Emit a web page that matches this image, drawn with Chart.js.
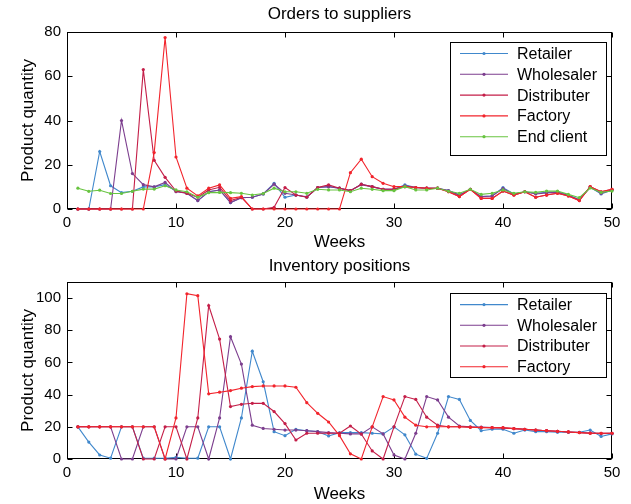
<!DOCTYPE html>
<html>
<head>
<meta charset="utf-8">
<script src="https://cdn.jsdelivr.net/npm/chart.js@4.4.1/dist/chart.umd.min.js"></script>
<style>
  html, body { margin: 0; padding: 0; background: #fff; }
  #wrap { position: relative; width: 631px; height: 504px; }
  canvas { position: absolute; left: 0; }
  #ordersChart { top: 0; }
  #inventoryChart { top: 252px; }
</style>
</head>
<body>
<div id="wrap">
  <canvas id="ordersChart" width="631" height="252"></canvas>
  <canvas id="inventoryChart" width="631" height="252"></canvas>
</div>
<script>
const WEEKS = [1, 2, 3, 4, 5, 6, 7, 8, 9, 10, 11, 12, 13, 14, 15, 16, 17, 18, 19, 20,
  21, 22, 23, 24, 25, 26, 27, 28, 29, 30, 31, 32, 33, 34, 35, 36, 37, 38, 39, 40,
  41, 42, 43, 44, 45, 46, 47, 48, 49, 50];
const X_TICKS = [0, 10, 20, 30, 40, 50];
const ORDERS_Y_TICKS = [0, 20, 40, 60, 80];
const INVENTORY_Y_TICKS = [0, 20, 40, 60, 80, 100];

// Orders to suppliers
const ORDERS_RETAILER = [0, 0, 26, 10.5, 7.4, 8, 10, 10, 11, 8.1,
  7.1, 3.8, 7.8, 8.6, 2.9, 5.1, 5.3, 6.8, 11.6, 5.3,
  6.3, 5.3, 9.7, 10.1, 9.4, 8.3, 11.2, 10.1, 8.9, 8.9,
  10.9, 9.7, 9.4, 9.4, 8.3, 6.3, 8.9, 5.6, 5.9, 9.7,
  6.8, 7.8, 7.1, 7.5, 7.8, 6.3, 4.3, 9.8, 6.8, 8.5];
const ORDERS_WHOLESALER = [0, 0, 0, 0, 40, 16, 11, 10, 12, 7.8,
  7.1, 3.8, 7.8, 8.6, 2.9, 5.1, 5.3, 6.8, 11.2, 7.1,
  6.3, 5.5, 9.7, 10.1, 9.4, 8.3, 11, 10, 8.9, 8.9,
  10.5, 9.7, 9.4, 9.4, 8.3, 6.3, 8.9, 5.6, 5.9, 9.3,
  6.6, 7.8, 6.8, 7.3, 7.5, 6.1, 4.1, 10, 7, 8.7];
const ORDERS_DISTRIBUTER = [0, 0, 0, 0, 0, 0, 63, 22, 14.3, 8.1,
  7.1, 5.3, 8.6, 9.8, 3.8, 5.3, 0, 0, 0.8, 9.7,
  6.3, 5.3, 9.7, 10.9, 9.4, 8.3, 11.2, 10.1, 8.9, 8.9,
  10.1, 9.7, 9.4, 9.4, 7.8, 5.6, 8.9, 4.8, 4.8, 8.1,
  6.3, 7.8, 5.3, 6.3, 7.1, 5.9, 3.8, 10.1, 7.8, 8.9];
const ORDERS_FACTORY = [0, 0, 0, 0, 0, 0, 0, 25.5, 77.5, 23.5,
  9.4, 5.9, 9.4, 10.9, 4.8, 5.6, 0, 0, 0, 0,
  0, 0, 0, 0, 0, 16.4, 22.5, 14.6, 11.6, 10.1,
  10.1, 9.7, 9.4, 9.4, 7.8, 5.6, 8.9, 4.8, 4.8, 8.1,
  6.3, 7.8, 5.3, 6.3, 7.1, 5.9, 3.8, 10.1, 7.8, 8.9];
const ORDERS_END_CLIENT = [9.4, 8, 8.5, 7, 7, 8, 9, 9, 10.5, 8.6,
  7.8, 5.3, 7.4, 7.5, 7.4, 7.1, 6.3, 7, 9.4, 7.8,
  7.8, 7.1, 8.9, 8.6, 8.6, 7.8, 9.4, 8.9, 8.3, 8.3,
  10.1, 8.6, 8.6, 9.4, 8, 7.1, 8.9, 6.6, 7.1, 8.6,
  7.1, 7.8, 7.5, 8.1, 8.1, 6.6, 5.1, 9.5, 7.5, 8.1];

// Inventory positions
const INVENTORY_RETAILER = [20, 10.5, 2.5, 0.5, 20, 20, 0.5, 0.5, 0.5, 1,
  0.5, 0.5, 20, 20, 0, 25.5, 67, 48, 17, 14.5,
  18.5, 17.6, 17, 14.3, 16.4, 16.4, 16.4, 16, 15.6, 20,
  15, 3, 0.4, 16, 38.8, 37, 24, 17.6, 18.5, 18.5,
  16, 18, 17, 17, 16.6, 16.6, 16.6, 18, 14, 15.6];
const INVENTORY_WHOLESALER = [20, 20, 20, 20, 0, 0, 20, 20, 0, 0,
  20, 20, 0, 25.5, 76, 59, 21, 19, 18.5, 18,
  18, 17.6, 17, 16.4, 16, 15.6, 15.6, 20, 15.6, 2.5,
  0, 16, 38.8, 36.7, 26, 20.5, 20, 19.8, 19.5, 19.3,
  18.9, 18.5, 18, 17.6, 17.2, 16.8, 16.5, 16.2, 15.8, 16];
const INVENTORY_DISTRIBUTER = [20, 20, 20, 20, 20, 20, 0, 0, 20, 20,
  0, 25.5, 95.4, 74.5, 32.6, 34, 34.6, 34.6, 29.5, 22,
  11.8, 16, 16, 16, 16, 20.5, 15.5, 5, 0, 20,
  38.8, 37, 26, 21, 20, 20, 19.8, 19.6, 19.5, 19.3,
  18.9, 18.5, 18, 17.6, 17.2, 16.8, 16.4, 16, 16, 16];
const INVENTORY_FACTORY = [20, 20, 20, 20, 20, 20, 20, 20, 0, 25.5,
  102.7, 101.5, 40.5, 41.5, 42.5, 44, 45, 45.4, 45.4, 45.4,
  44.6, 35, 28.4, 23, 14.5, 3.2, 0, 20, 38.8, 36.7,
  26, 21, 20, 20, 20, 20, 19.7, 19.5, 19.5, 19.5,
  18.9, 18.5, 18, 17.6, 17.2, 16.8, 16.4, 16, 16, 16];

const COLORS = {
  retailer: 'rgb(64, 136, 204)',
  wholesaler: 'rgb(124, 62, 142)',
  distributer: 'rgb(196, 30, 72)',
  factory: 'rgb(242, 36, 44)',
  endClient: 'rgb(104, 196, 64)',
};

const FONT = '"Liberation Sans", Arial, Helvetica, sans-serif';

function points(values) {
  return WEEKS.map((w, i) => ({ x: w, y: values[i] }));
}

function series(label, values, color, order) {
  return {
    label,
    data: points(values),
    borderColor: color,
    backgroundColor: color,
    borderWidth: 1.1,
    pointRadius: 1.6,
    pointBorderWidth: 0,
    pointBackgroundColor: color,
    pointHoverRadius: 1.6,
    tension: 0,
    clip: false,
    order,
  };
}

// box + inward ticks on all four sides, title centred over the plot
const framePlugin = {
  id: 'frame',
  beforeDatasetsDraw(chart, args, opts) {
    const { ctx, chartArea: a, scales } = chart;
    const l = Math.round(a.left) + 0.5;
    const r = Math.round(a.right) - 0.5;
    const t = Math.round(a.top) + 0.5;
    const b = Math.round(a.bottom) - 0.5;
    const len = 5;
    ctx.save();
    ctx.strokeStyle = '#000';
    ctx.lineWidth = 1;
    ctx.strokeRect(l, t, r - l, b - t);
    ctx.beginPath();
    scales.x.ticks.forEach((tk) => {
      const px = Math.round(scales.x.getPixelForValue(tk.value)) + 0.5;
      ctx.moveTo(px, b); ctx.lineTo(px, b - len);
      ctx.moveTo(px, t); ctx.lineTo(px, t + len);
    });
    scales.y.ticks.forEach((tk) => {
      const py = Math.round(scales.y.getPixelForValue(tk.value)) + 0.5;
      ctx.moveTo(l, py); ctx.lineTo(l + len, py);
      ctx.moveTo(r, py); ctx.lineTo(r - len, py);
    });
    ctx.stroke();

    ctx.fillStyle = '#000';
    ctx.font = '17px ' + FONT;
    ctx.textAlign = 'center';
    ctx.textBaseline = 'middle';
    ctx.fillText(opts.title, (a.left + a.right) / 2, opts.titleY);
    ctx.restore();
  },
};

// legend drawn inside the plot, upper right
const boxLegendPlugin = {
  id: 'boxLegend',
  afterDatasetsDraw(chart, args, opts) {
    const { ctx } = chart;
    const sets = chart.data.datasets;
    ctx.save();
    ctx.fillStyle = '#fff';
    ctx.fillRect(opts.left, opts.top, opts.width, opts.height);
    ctx.strokeStyle = '#000';
    ctx.lineWidth = 1;
    ctx.strokeRect(opts.left + 0.5, opts.top + 0.5, opts.width, opts.height);
    ctx.font = '16px ' + FONT;
    ctx.textBaseline = 'middle';
    ctx.textAlign = 'left';
    sets.forEach((ds, i) => {
      const y = opts.firstRow + i * opts.rowStep;
      ctx.strokeStyle = ds.borderColor;
      ctx.lineWidth = 1.1;
      ctx.beginPath();
      ctx.moveTo(opts.lineX0, y);
      ctx.lineTo(opts.lineX1, y);
      ctx.stroke();
      ctx.fillStyle = ds.borderColor;
      ctx.beginPath();
      ctx.arc((opts.lineX0 + opts.lineX1) / 2, y, 1.6, 0, Math.PI * 2);
      ctx.fill();
      ctx.fillStyle = '#000';
      ctx.fillText(ds.label, opts.textX, y + 1);
    });
    ctx.restore();
  },
};

function makeOptions(title, titleY, plotTop, yMax, yTicks, xHeight, legend) {
  return {
    responsive: false,
    animation: false,
    devicePixelRatio: 1,
    events: [],
    layout: { padding: { left: 0, right: 19, top: plotTop, bottom: 0 } },
    plugins: {
      legend: { display: false },
      tooltip: { enabled: false },
      title: { display: false },
      frame: { title, titleY },
      boxLegend: legend,
    },
    scales: {
      x: {
        type: 'linear',
        min: 0,
        max: 50,
        afterBuildTicks: (scale) => { scale.ticks = X_TICKS.map((v) => ({ value: v })); },
        afterFit: (scale) => { scale.height = xHeight; },
        grid: { display: false, drawTicks: false },
        border: { display: false },
        ticks: { color: '#000', padding: 5, maxRotation: 0, font: { family: FONT, size: 15 } },
        title: {
          display: true,
          text: 'Weeks',
          color: '#000',
          font: { family: FONT, size: 17, lineHeight: 1.1 },
          padding: { top: 0, bottom: 0 },
        },
      },
      y: {
        type: 'linear',
        min: 0,
        max: yMax,
        afterBuildTicks: (scale) => { scale.ticks = yTicks.map((v) => ({ value: v })); },
        afterFit: (scale) => { scale.width = 67; },
        grid: { display: false, drawTicks: false },
        border: { display: false },
        ticks: { color: '#000', padding: 6, font: { family: FONT, size: 15 } },
        title: {
          display: true,
          text: 'Product quantity',
          color: '#000',
          font: { family: FONT, size: 17 },
          padding: { top: 18, bottom: 0 },
        },
      },
    },
  };
}

new Chart(document.getElementById('ordersChart'), {
  type: 'line',
  data: {
    datasets: [
      series('Retailer', ORDERS_RETAILER, COLORS.retailer, 5),
      series('Wholesaler', ORDERS_WHOLESALER, COLORS.wholesaler, 4),
      series('Distributer', ORDERS_DISTRIBUTER, COLORS.distributer, 3),
      series('Factory', ORDERS_FACTORY, COLORS.factory, 2),
      series('End client', ORDERS_END_CLIENT, COLORS.endClient, 1),
    ],
  },
  options: makeOptions('Orders to suppliers', 14, 32, 80, ORDERS_Y_TICKS, 43, {
    left: 450, top: 42, width: 156, height: 113,
    firstRow: 53.5, rowStep: 20.8, lineX0: 460, lineX1: 508, textX: 517,
  }),
  plugins: [framePlugin, boxLegendPlugin],
});

new Chart(document.getElementById('inventoryChart'), {
  type: 'line',
  data: {
    datasets: [
      series('Retailer', INVENTORY_RETAILER, COLORS.retailer, 4),
      series('Wholesaler', INVENTORY_WHOLESALER, COLORS.wholesaler, 3),
      series('Distributer', INVENTORY_DISTRIBUTER, COLORS.distributer, 2),
      series('Factory', INVENTORY_FACTORY, COLORS.factory, 1),
    ],
  },
  options: makeOptions('Inventory positions', 14, 30, 110, INVENTORY_Y_TICKS, 45, {
    left: 450, top: 41, width: 156, height: 84,
    firstRow: 52.6, rowStep: 20.7, lineX0: 460, lineX1: 508, textX: 517,
  }),
  plugins: [framePlugin, boxLegendPlugin],
});
</script>
</body>
</html>
